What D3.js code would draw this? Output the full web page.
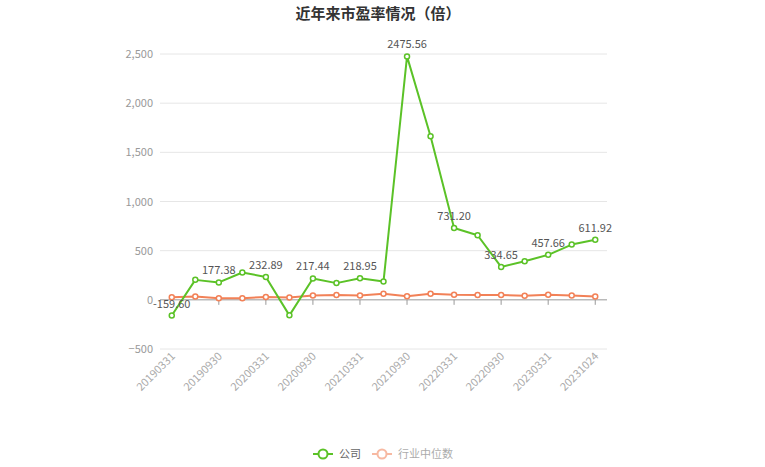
<!DOCTYPE html>
<html>
<head>
<meta charset="utf-8">
<script src="https://cdn.jsdelivr.net/npm/d3@7.9.0/dist/d3.min.js"></script>
<style>
  html, body { margin: 0; padding: 0; background: #fff; }
  svg { display: block; font-family: "Microsoft YaHei", "Noto Sans CJK SC", sans-serif; }
</style>
</head>
<body>
<svg id="chart" width="765" height="467"></svg>
<script>
// --- data ---
const dates = ['20190331','20190630','20190930','20191231','20200331','20200630','20200930','20201231',
               '20210331','20210630','20210930','20211231','20220331','20220630','20220930','20221231',
               '20230331','20230630','20231024'];
const company  = [-159.60, 203, 177.38, 278, 232.89, -158, 217.44, 170, 218.95, 186,
                  2475.56, 1663, 731.20, 657, 334.65, 393, 457.66, 562, 611.92];
const industry = [27, 33, 17, 17, 30, 24, 44, 48, 44, 61, 37, 61, 51, 48, 48, 41, 51, 44, 33];
const yTicks   = [-500, 0, 500, 1000, 1500, 2000, 2500];

const green  = '#5bc227';
const orange = '#f28157';

// --- layout ---
const svg = d3.select('#chart');
const plotL = 160, plotR = 607, plotT = 54, plotB = 349;

const x = d3.scaleBand().domain(dates).range([plotL, plotR]);
const cx = d => x(d) + x.bandwidth() / 2;
const y = d3.scaleLinear().domain([-500, 2500]).range([plotB, plotT]);

// title
svg.append('text')
  .attr('x', 378).attr('y', 19)
  .attr('text-anchor', 'middle')
  .attr('font-size', 15).attr('font-weight', 'bold')
  .attr('fill', '#333')
  .text('近年来市盈率情况（倍）');

// grid lines
svg.append('g').selectAll('line')
  .data(yTicks.filter(v => v !== 0))
  .join('line')
  .attr('x1', plotL).attr('x2', plotR)
  .attr('y1', d => y(d)).attr('y2', d => y(d))
  .attr('stroke', '#e6e6e6');

// y labels
svg.append('g').selectAll('text')
  .data(yTicks)
  .join('text')
  .attr('x', plotL - 7).attr('y', d => y(d) + 4)
  .attr('text-anchor', 'end')
  .attr('font-size', 11).attr('fill', '#999')
  .text(d => d3.format(',')(d));

// x axis line at zero
svg.append('line')
  .attr('x1', plotL).attr('x2', plotR)
  .attr('y1', y(0)).attr('y2', y(0))
  .attr('stroke', '#999');

// ticks + labels every other category
const labelled = dates.filter((d, i) => i % 2 === 0);
svg.append('g').selectAll('line')
  .data(labelled.slice(1))
  .join('line')
  .attr('x1', cx).attr('x2', cx)
  .attr('y1', y(0)).attr('y2', y(0) + 5)
  .attr('stroke', '#999');

svg.append('g').selectAll('text')
  .data(labelled)
  .join('text')
  .attr('transform', d => `translate(${cx(d) + 4},${plotB + 8}) rotate(-45)`)
  .attr('text-anchor', 'end')
  .attr('font-size', 11).attr('fill', '#aaa')
  .text(d => d);

// lines
const line = d3.line().x((d, i) => cx(dates[i])).y(d => y(d));

function drawSeries(vals, color) {
  svg.append('path')
    .datum(vals)
    .attr('d', line)
    .attr('fill', 'none')
    .attr('stroke', color)
    .attr('stroke-width', 2)
    .attr('stroke-linejoin', 'round');
  svg.append('g').selectAll('circle')
    .data(vals)
    .join('circle')
    .attr('cx', (d, i) => cx(dates[i]))
    .attr('cy', d => y(d))
    .attr('r', 2.5)
    .attr('fill', '#fff')
    .attr('stroke', color)
    .attr('stroke-width', 1.5);
}
drawSeries(industry, orange);
drawSeries(company, green);

// value labels on every other company point
svg.append('g').selectAll('text')
  .data(company.map((v, i) => ({ v, i })).filter(d => d.i % 2 === 0))
  .join('text')
  .attr('x', d => cx(dates[d.i]))
  .attr('y', d => y(d.v) - 8)
  .attr('text-anchor', 'middle')
  .attr('font-size', 11).attr('fill', '#555')
  .text(d => d.v.toFixed(2));

// legend
const legend = [
  { name: '公司', color: green, x: 313, op: 1 },
  { name: '行业中位数', color: orange, x: 372, op: 0.55 }
];
const lg = svg.append('g').selectAll('g')
  .data(legend)
  .join('g')
  .attr('transform', d => `translate(${d.x},454)`)
  .attr('opacity', d => d.op);
lg.append('line')
  .attr('x1', 0).attr('x2', 20)
  .attr('stroke', d => d.color).attr('stroke-width', 2);
lg.append('circle')
  .attr('cx', 10).attr('r', 4.5)
  .attr('fill', '#fff')
  .attr('stroke', d => d.color).attr('stroke-width', 2);
lg.append('text')
  .attr('x', 26).attr('y', 4)
  .attr('font-size', 11).attr('fill', '#666')
  .text(d => d.name);
</script>
</body>
</html>
